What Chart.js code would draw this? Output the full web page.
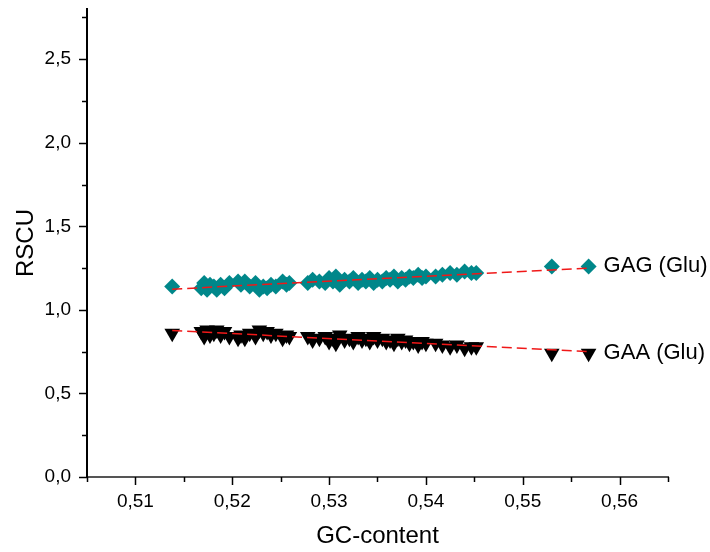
<!DOCTYPE html>
<html>
<head>
<meta charset="utf-8">
<script src="https://cdn.jsdelivr.net/npm/chart.js@4/dist/chart.umd.min.js"></script>
<style>
  html, body { margin: 0; padding: 0; background: #fff; }
  canvas { display: block; }
</style>
</head>
<body>
<canvas id="c" width="710" height="552"></canvas>
<script>
// GC content of each gene (x) and relative synonymous codon usage of the two Glu codons
const gcContent = [
  0.5138, 0.5168, 0.5171, 0.5174, 0.5177, 0.5181, 0.5184, 0.5188, 0.5192, 0.5197,
  0.5206, 0.5209, 0.5213, 0.5218, 0.5224, 0.5228, 0.5232, 0.5236, 0.5240, 0.5245,
  0.5252, 0.5256, 0.5259, 0.5278, 0.5283, 0.5290, 0.5296, 0.5300, 0.5304, 0.5307,
  0.5311, 0.5316, 0.5321, 0.5325, 0.5330, 0.5334, 0.5338, 0.5342, 0.5346, 0.5350,
  0.5355, 0.5359, 0.5363, 0.5367, 0.5371, 0.5375, 0.5379, 0.5383, 0.5387, 0.5392,
  0.5396, 0.5400, 0.5410, 0.5417, 0.5425, 0.5432, 0.5440, 0.5447, 0.5452, 0.5530,
  0.5568
];
const rscuGAG = [
  1.14, 1.13, 1.16, 1.12, 1.15, 1.14, 1.12, 1.15, 1.13, 1.16,
  1.17, 1.15, 1.17, 1.14, 1.16, 1.12, 1.14, 1.13, 1.15, 1.14,
  1.17, 1.15, 1.16, 1.16, 1.18, 1.17, 1.16, 1.19, 1.17, 1.20,
  1.15, 1.18, 1.17, 1.19, 1.16, 1.18, 1.17, 1.19, 1.16, 1.18,
  1.17, 1.19, 1.18, 1.20, 1.17, 1.19, 1.18, 1.20, 1.19, 1.21,
  1.19, 1.20, 1.20, 1.21, 1.22, 1.21, 1.23, 1.22, 1.22, 1.26,
  1.26
];
const rscuGAA = [
  0.86, 0.87, 0.84, 0.88, 0.85, 0.86, 0.88, 0.85, 0.87, 0.84,
  0.83, 0.85, 0.83, 0.86, 0.84, 0.88, 0.86, 0.87, 0.85, 0.86,
  0.83, 0.85, 0.84, 0.84, 0.82, 0.83, 0.84, 0.81, 0.83, 0.80,
  0.85, 0.82, 0.83, 0.81, 0.84, 0.82, 0.83, 0.81, 0.84, 0.82,
  0.83, 0.81, 0.82, 0.80, 0.83, 0.81, 0.82, 0.80, 0.81, 0.79,
  0.81, 0.80, 0.80, 0.79, 0.78, 0.79, 0.77, 0.78, 0.78, 0.74,
  0.74
];
const seriesNames = ['GAG (Glu)', 'GAA (Glu)'];
const xRange = [0.505, 0.565];
const yRange = [0, 2.8];

const FONT = "'Liberation Sans', Arial, sans-serif";

function points(xs, ys) {
  return xs.map((x, i) => ({ x: x, y: ys[i] }));
}

// Least-squares linear fit, drawn across the observed GC range
function linearFit(xs, ys) {
  const n = xs.length;
  const mx = xs.reduce((a, b) => a + b, 0) / n;
  const my = ys.reduce((a, b) => a + b, 0) / n;
  let sxy = 0, sxx = 0;
  for (let i = 0; i < n; i++) {
    sxy += (xs[i] - mx) * (ys[i] - my);
    sxx += (xs[i] - mx) * (xs[i] - mx);
  }
  const b = sxy / sxx;
  const a = my - b * mx;
  const x0 = Math.min(...xs), x1 = Math.max(...xs);
  return [{ x: x0, y: a + b * x0 }, { x: x1, y: a + b * x1 }];
}

const isMajorX = v => Math.round(v * 1000) % 10 === 0;
const isMajorY = v => Math.round(v * 100) % 50 === 0;

// Outward tick marks: long for labelled values, short for the ones in between
const tickMarks = {
  id: 'tickMarks',
  afterDraw(chart) {
    const ctx = chart.ctx;
    const xs = chart.scales.x, ys = chart.scales.y;
    const area = chart.chartArea;
    ctx.save();
    ctx.strokeStyle = '#000';
    ctx.lineWidth = 1.5;
    ys.ticks.forEach(t => {
      const p = Math.round(ys.getPixelForValue(t.value)) + 0.5;
      const len = isMajorY(t.value) ? 8 : 5;
      ctx.beginPath();
      ctx.moveTo(area.left - len, p);
      ctx.lineTo(area.left, p);
      ctx.stroke();
    });
    xs.ticks.forEach(t => {
      const p = Math.round(xs.getPixelForValue(t.value)) + 0.5;
      const len = isMajorX(t.value) ? 8 : 5;
      ctx.beginPath();
      ctx.moveTo(p, area.bottom);
      ctx.lineTo(p, area.bottom + len);
      ctx.stroke();
    });
    ctx.restore();
  }
};

// Series names written next to the last point of each series
const seriesLabels = {
  id: 'seriesLabels',
  afterDraw(chart) {
    const ctx = chart.ctx;
    ctx.save();
    ctx.font = '22px ' + FONT;
    ctx.fillStyle = '#000';
    ctx.textBaseline = 'middle';
    ctx.textAlign = 'left';
    [0, 1].forEach(i => {
      const meta = chart.getDatasetMeta(i);
      const last = meta.data[meta.data.length - 1];
      ctx.fillText(seriesNames[i], last.x + 15, last.y);
    });
    ctx.restore();
  }
};

new Chart(document.getElementById('c'), {
  type: 'scatter',
  data: {
    datasets: [
      {
        label: seriesNames[0],
        data: points(gcContent, rscuGAG),
        pointStyle: 'rectRot',
        pointRadius: 8,
        pointBackgroundColor: '#00878a',
        pointBorderColor: '#00878a',
        pointBorderWidth: 0,
        order: 2
      },
      {
        label: seriesNames[1],
        data: points(gcContent, rscuGAA),
        pointStyle: 'triangle',
        rotation: 180,
        pointRadius: 9,
        pointBackgroundColor: '#000',
        pointBorderColor: '#000',
        pointBorderWidth: 0,
        order: 2
      },
      {
        label: 'fit GAG',
        type: 'line',
        data: linearFit(gcContent, rscuGAG),
        showLine: true,
        borderColor: '#f01818',
        borderWidth: 1.5,
        borderDash: [10, 5],
        pointRadius: 0,
        order: 0
      },
      {
        label: 'fit GAA',
        type: 'line',
        data: linearFit(gcContent, rscuGAA),
        showLine: true,
        borderColor: '#f01818',
        borderWidth: 1.5,
        borderDash: [10, 5],
        pointRadius: 0,
        order: 0
      }
    ]
  },
  options: {
    responsive: false,
    animation: false,
    events: [],
    layout: { padding: { top: 8, right: 42, left: 0, bottom: 0 } },
    plugins: {
      legend: { display: false },
      tooltip: { enabled: false }
    },
    scales: {
      x: {
        type: 'linear',
        min: xRange[0],
        max: xRange[1],
        afterFit(s) { s.height = 75; s.paddingLeft = 0; s.paddingRight = 0; },
        border: { display: true, color: '#555', width: 2 },
        grid: { display: true, drawOnChartArea: false, tickLength: 8, tickColor: 'rgba(0,0,0,0)' },
        ticks: {
          stepSize: 0.005,
          autoSkip: false,
          maxRotation: 0,
          padding: 5,
          color: '#000',
          font: { family: FONT, size: 19 },
          callback: v => isMajorX(v) ? v.toFixed(2).replace('.', ',') : ''
        },
        title: {
          display: true,
          text: 'GC-content',
          color: '#000',
          font: { family: FONT, size: 24 },
          padding: { top: 0, bottom: 1 }
        }
      },
      y: {
        type: 'linear',
        min: yRange[0],
        max: yRange[1],
        afterFit(s) { s.width = 87; s.paddingTop = 0; s.paddingBottom = 0; },
        border: { display: true, color: '#000', width: 2 },
        grid: { display: true, drawOnChartArea: false, tickLength: 8, tickColor: 'rgba(0,0,0,0)' },
        ticks: {
          stepSize: 0.25,
          includeBounds: false,
          autoSkip: false,
          padding: 8,
          color: '#000',
          font: { family: FONT, size: 19 },
          callback: v => isMajorY(v) ? v.toFixed(1).replace('.', ',') : ''
        },
        title: {
          display: true,
          text: 'RSCU',
          color: '#000',
          font: { family: FONT, size: 24 },
          padding: { top: 12, bottom: 0 }
        }
      }
    }
  },
  plugins: [tickMarks, seriesLabels]
});
</script>
</body>
</html>
